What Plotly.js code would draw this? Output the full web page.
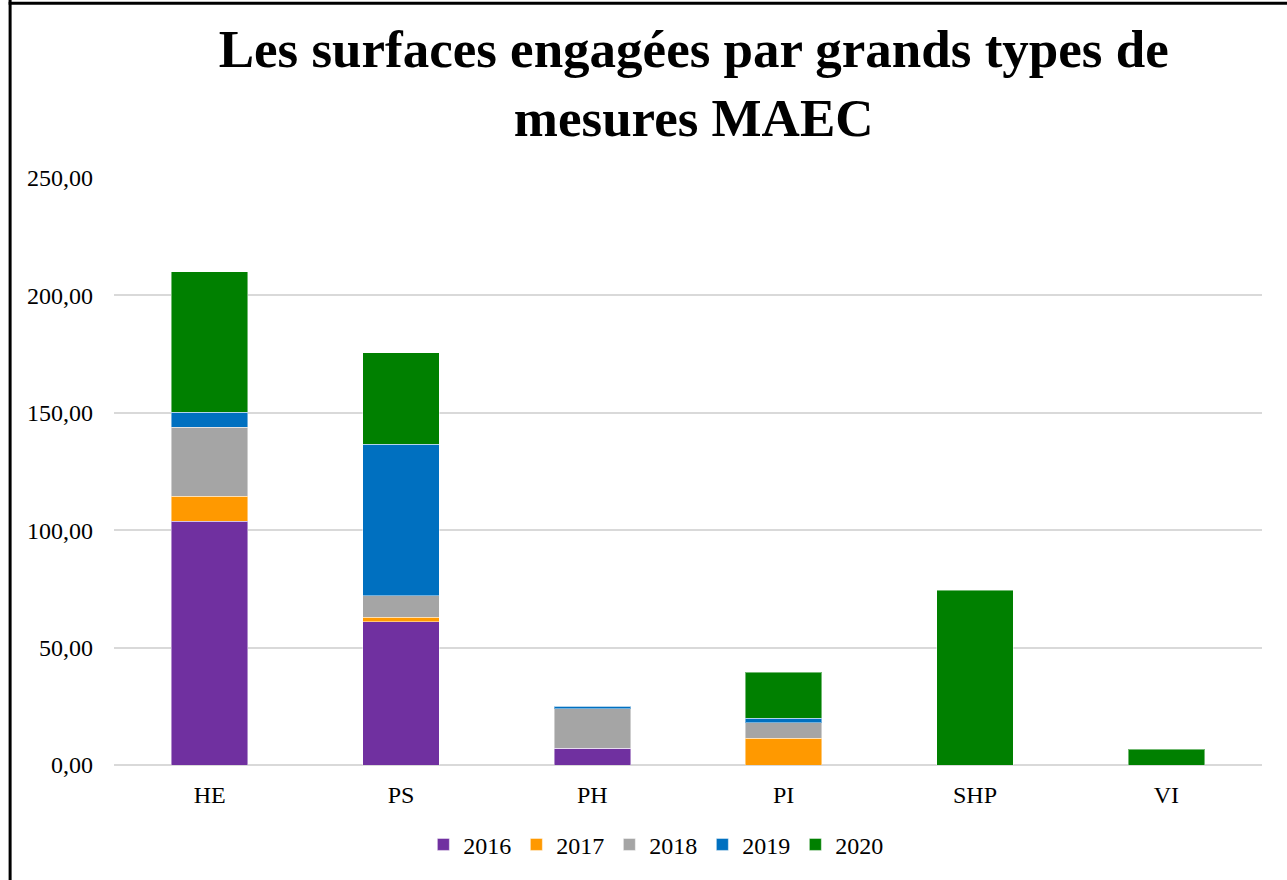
<!DOCTYPE html>
<html>
<head>
<meta charset="utf-8">
<script src="https://cdn.plot.ly/plotly-3.0.1.min.js"></script>
<style>
  html, body { margin: 0; padding: 0; background: #ffffff; }
  #chart { width: 1287px; height: 880px; }
</style>
</head>
<body>
<div id="chart"></div>
<script>
const categories = ["HE", "PS", "PH", "PI", "SHP", "VI"];
const years = ["2016", "2017", "2018", "2019", "2020"];
const v2016 = [103.9, 61.0, 7.1, 0, 0, 0];
const v2017 = [10.6, 1.9, 0, 11.4, 0, 0];
const v2018 = [29.4, 9.2, 16.9, 6.6, 0, 0];
const v2019 = [6.4, 64.6, 1.0, 2.0, 0, 0];
const v2020 = [59.7, 38.8, 0, 19.5, 74.5, 6.8];
const colors = ["#7030A0", "#FF9900", "#A5A5A5", "#0070C0", "#008000"];
const series = [v2016, v2017, v2018, v2019, v2020];

const traces = series.map((vals, i) => ({
  type: "bar",
  name: years[i],
  x: categories,
  y: vals,
  marker: { color: colors[i], line: { color: "rgba(255,255,255,0.45)", width: 1 } },
  hoverinfo: "x+y+name"
}));

const serif = "Liberation Serif, Times New Roman, serif";

const layout = {
  width: 1287,
  height: 880,
  paper_bgcolor: "#ffffff",
  plot_bgcolor: "#ffffff",
  separators: ", ",
  barmode: "stack",
  bargap: 0.6,
  margin: { l: 114, r: 25, t: 178, b: 115 },
  title: {
    text: "Les surfaces engagées par grands types de<br>mesures MAEC",
    font: { family: serif, size: 53, color: "#000000", weight: "bold" },
    x: 0.539,
    xanchor: "center",
    yref: "container",
    y: 0.924,
    yanchor: "middle"
  },
  xaxis: {
    type: "category",
    tickfont: { family: serif, size: 24, color: "#000000" },
    showgrid: false,
    showline: false,
    ticks: "",
    ticklabelstandoff: 13
  },
  yaxis: {
    range: [0, 250],
    dtick: 50,
    tick0: 0,
    tickformat: ".2f",
    tickfont: { family: serif, size: 24, color: "#000000" },
    showgrid: true,
    gridcolor: "#D9D9D9",
    gridwidth: 1.5,
    zeroline: true,
    zerolinecolor: "#D9D9D9",
    zerolinewidth: 1.5,
    showline: false,
    ticks: "",
    ticklabelstandoff: 20
  },
  legend: {
    orientation: "h",
    x: 0.472,
    xanchor: "center",
    y: -0.136,
    yanchor: "middle",
    entrywidth: 48,
    entrywidthmode: "pixels",
    font: { family: serif, size: 24, color: "#000000" },
    traceorder: "normal"
  },
  shapes: [
    { type: "line", xref: "paper", yref: "paper", x0: -0.0905, x1: -0.0905, y0: 1.31, y1: -0.3,
      line: { color: "#000000", width: 3 } },
    { type: "line", xref: "paper", yref: "paper", x0: -0.0918, x1: 1.05, y0: 1.2975, y1: 1.2975,
      line: { color: "#000000", width: 3 } }
  ],
  showlegend: true
};

Plotly.newPlot("chart", traces, layout, { displayModeBar: false, responsive: false });
</script>
</body>
</html>
